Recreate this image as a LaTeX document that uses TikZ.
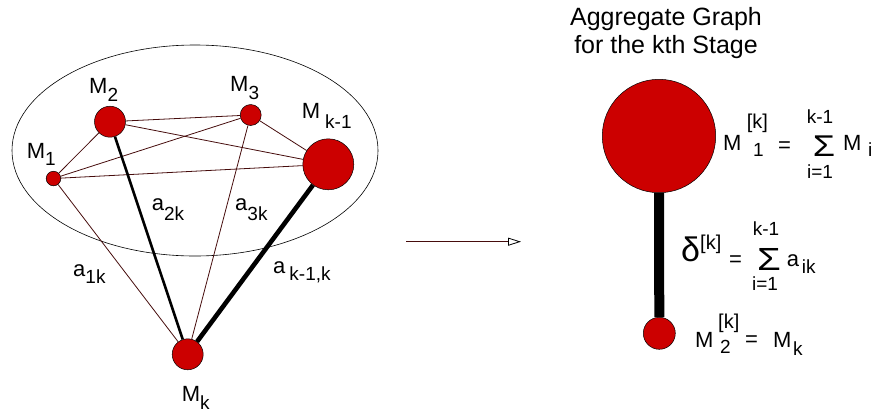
\documentclass[tikz,border=0pt]{standalone}
\usepackage{fontspec}
\setmainfont{Liberation Sans}
\usepackage{graphicx}
\usepackage{tikz}
\usetikzlibrary{arrows.meta}

\definecolor{nodered}{RGB}{204,0,0}
\definecolor{edgebrown}{RGB}{70,12,12}
\newcommand{\mainsz}{\fontsize{22}{26}\selectfont}
\newcommand{\subsz}{\fontsize{19}{22}\selectfont}
\newcommand{\titlesz}{\fontsize{25}{30}\selectfont}
\newcommand{\lsub}[3]{#1\raisebox{-#3}{\subsz #2}}
\newcommand{\bigsum}{\scalebox{1.2}[1]{Σ}}

\begin{document}
\begin{tikzpicture}[x=1pt,y=-1pt,
  every node/.style={font=\mainsz,inner sep=0pt},
  mass/.style={circle,draw=black,line width=0.5pt,fill=nodered,minimum size=#1},
  lbl/.style={anchor=base west},
  stacked/.style={anchor=base,font=\subsz},
  lightlink/.style={draw=edgebrown,line width=0.8pt},
  heavylink/.style={draw=black,line width=2.6pt},
  heavierlink/.style={draw=black,line width=4.6pt}]
  \useasboundingbox (0,0) rectangle (878,416);
  % the k-1 earlier stages
  \draw[line width=0.6pt] (195,150.5) ellipse [x radius=183pt,y radius=105.5pt];
  \node[mass=14.6pt] (m1) at (53.5,178.5) {};
  \node[mass=31pt] (m2) at (110,121.7) {};
  \node[mass=21pt] (m3) at (250.7,115) {};
  \node[mass=51pt] (mk1) at (328.3,164.3) {};
  \node[mass=31pt] (mk) at (187.7,354.3) {};
  % links among them
  \draw[lightlink] (m1) -- (m2);
  \draw[lightlink] (m1) -- (m3);
  \draw[lightlink] (m1) -- (mk1);
  \draw[lightlink] (m2) -- (m3);
  \draw[lightlink] (m2) -- (mk1);
  \draw[lightlink] (m3) -- (mk1);
  % links to the kth stage
  \draw[lightlink] (m1) -- (mk);
  \draw[heavylink] (m2) -- (mk);
  \draw[lightlink] (m3) -- (mk);
  \draw[heavierlink] (mk1) -- (mk);
  % mass labels
  \node[lbl] (m1lbl) at (26.7,158) {\lsub{M}{1}{7pt}};
  \node[lbl] (m2lbl) at (89,93) {\lsub{M}{2}{8pt}};
  \node[lbl] (m3lbl) at (230,91.7) {\lsub{M}{3}{8pt}};
  \node[lbl] (mk1lbl) at (301.7,118) {\lsub{M\hspace{5pt}}{k-1}{10pt}};
  \node[lbl] (mklbl) at (181.7,401.7) {\lsub{M}{k}{8pt}};
  % link labels
  \node[lbl] (a1k) at (73,276.7) {\lsub{a}{1k}{7pt}};
  \node[lbl] (a2k) at (151.7,210) {\lsub{a}{2k}{10pt}};
  \node[lbl] (a3k) at (235,210) {\lsub{a}{3k}{10pt}};
  \node[lbl] (ak1k) at (273,273.3) {\lsub{a\hspace{4pt}}{k-1,k}{7pt}};
  % arrow
  \coordinate (arrowtail) at (406,241.7);
  \coordinate (arrowhead) at (521,241.7);
  \draw[draw=edgebrown,line width=1.3pt,-{Triangle[open,length=13pt,width=8pt,line width=0.8pt,color=black]}] (arrowtail) -- (arrowhead);
  % aggregate graph
  \node[anchor=base,font=\titlesz] (title1) at (666,25) {Aggregate Graph};
  \node[anchor=base,font=\titlesz] (title2) at (666,53.3) {for the kth Stage};
  \node[mass=113.4pt] (agg1) at (659,136) {};
  \node[mass=32pt] (agg2) at (659.3,333.3) {};
  \draw[draw=black,line width=10pt] (agg1) -- (agg2);
  % M1 formula
  \node[lbl] (f1m) at (723,150) {M};
  \node[lbl,font=\fontsize{20}{24}\selectfont] (f1sup) at (746.7,128) {[k]};
  \node[lbl,font=\subsz] (f1sub) at (753,156.7) {1};
  \node[lbl] (f1eq) at (778,152) {=};
  \node[stacked] (f1top) at (820,123) {k-1};
  \node[anchor=base,font=\fontsize{30}{34}\selectfont] (f1sum) at (824,156.7) {\bigsum};
  \node[stacked] (f1bot) at (820,178) {i=1};
  \node[lbl] (f1mi) at (843,150) {M};
  \node[lbl,font=\subsz] (f1i) at (868,156.7) {i};
  % delta formula
  \node[lbl,font=\fontsize{34}{38}\selectfont] (f2d) at (681,261.7) {δ};
  \node[lbl,font=\fontsize{20}{24}\selectfont] (f2sup) at (700,249) {[k]};
  \node[lbl] (f2eq) at (729,266) {=};
  \node[stacked] (f2top) at (766,235) {k-1};
  \node[anchor=base,font=\fontsize{32}{36}\selectfont] (f2sum) at (769,270) {\bigsum};
  \node[stacked] (f2bot) at (765,290) {i=1};
  \node[lbl] (f2a) at (786.7,266.7) {a};
  \node[lbl,font=\subsz] (f2ik) at (801.7,273.3) {ik};
  % M2 formula
  \node[lbl] (f3m) at (695,347) {M};
  \node[lbl,font=\fontsize{20}{24}\selectfont] (f3sup) at (718,328) {[k]};
  \node[lbl,font=\subsz] (f3sub) at (720,353) {2};
  \node[lbl] (f3eq) at (745,346) {=};
  \node[lbl] (f3mk) at (773,347) {M};
  \node[lbl,font=\subsz] (f3k) at (793,355) {k};
\end{tikzpicture}
\end{document}
